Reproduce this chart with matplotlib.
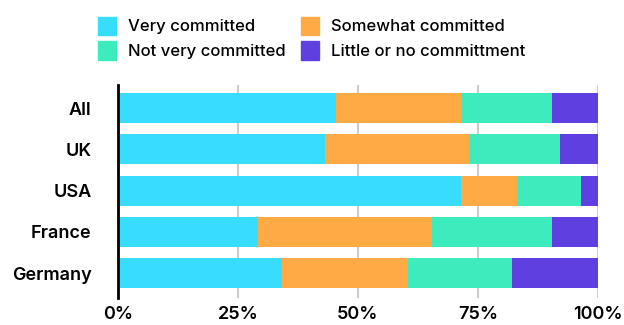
import numpy as np
import matplotlib
matplotlib.use("Agg")
import matplotlib.pyplot as plt
from matplotlib.patches import Patch

plt.rcParams['font.family'] = ['Inter', 'DejaVu Sans']

countries = ["All", "UK", "USA", "France", "Germany"]
series = ["Very committed", "Somewhat committed", "Not very committed", "Little or no committment"]
very = [45.5, 43.2, 71.5, 29.2, 34.2]
somewhat = [26.0, 30.0, 11.7, 36.3, 26.2]
not_very = [19.0, 19.0, 13.4, 25.0, 21.8]
little = [9.5, 7.8, 3.4, 9.5, 17.8]
colors = ["#38DCFF", "#FFAA45", "#3DEBBD", "#603FE0"]
xticks = [0, 25, 50, 75, 100]
xtick_labels = ["0%", "25%", "50%", "75%", "100%"]

fig = plt.figure(figsize=(6.24, 3.25), dpi=100)
ax = fig.add_axes([118/624, 1-298/325, (597.7-118)/624, 213/325])

y = np.arange(len(countries))
left = np.zeros(len(countries))
for vals, col, name in zip([very, somewhat, not_very, little], colors, series):
    ax.barh(y, vals, left=left, height=0.73, color=col, label=name, zorder=2)
    left += np.array(vals)

ax.set_xlim(0, 100)
ax.set_ylim(4.6, -0.56)
ax.set_yticks(y)
ax.set_yticklabels(countries, fontsize=13, fontweight='semibold')
ax.set_xticks(xticks)
ax.set_xticklabels(xtick_labels, fontsize=13, fontweight='semibold')
ax.tick_params(axis='both', length=0)
ax.tick_params(axis='y', pad=19)
ax.tick_params(axis='x', pad=6)
ax.grid(axis='x', color='#cccccc', linewidth=1.5, zorder=0)
for s in ['top', 'right', 'bottom']:
    ax.spines[s].set_visible(False)
ax.spines['left'].set_linewidth(2)
ax.spines['left'].set_color('black')
ax.spines['left'].set_zorder(3)

handles = [Patch(color=c, label=n) for c, n in zip(colors, series)]
order = [0, 2, 1, 3]
fig.legend([handles[i] for i in order], [series[i] for i in order], ncol=2,
           loc='upper left', bbox_to_anchor=(83/624, 0.995), frameon=False,
           prop={'size': 12, 'weight': 'medium'}, handlelength=1.1, handleheight=1.3,
           handletextpad=0.7, columnspacing=0.9, labelspacing=0.4)

fig.savefig("out.png", dpi=100)
